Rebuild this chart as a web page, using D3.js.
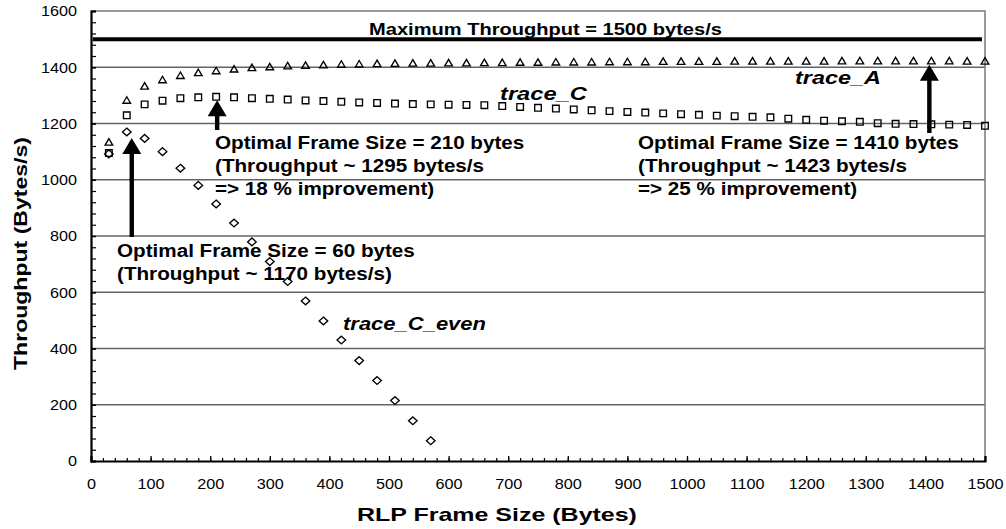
<!DOCTYPE html>
<html>
<head>
<meta charset="utf-8">
<script src="https://cdn.jsdelivr.net/npm/d3@7"></script>
<style>
  body { margin: 0; background: #fff; }
  svg { display: block; }
</style>
</head>
<body>
<svg id="chart" width="1006" height="529"></svg>
<script>
// RLP frame sizes (bytes) at which throughput was measured
const frameSizes = [30, 60, 90, 120, 150, 180, 210, 240, 270, 300, 330, 360, 390, 420, 450, 480, 510, 540, 570, 600,
  630, 660, 690, 720, 750, 780, 810, 840, 870, 900, 930, 960, 990, 1020, 1050, 1080, 1110, 1140, 1170, 1200,
  1230, 1260, 1290, 1320, 1350, 1380, 1410, 1440, 1470, 1500];

// Throughput (bytes/s) for trace_A
const traceA = [1134, 1283, 1333, 1356, 1371, 1381, 1388, 1394, 1399, 1402, 1405, 1407, 1409, 1411, 1412, 1413, 1414, 1415, 1415, 1416,
  1416, 1417, 1417, 1418, 1418, 1419, 1419, 1419, 1420, 1420, 1420, 1421, 1421, 1421, 1421, 1422, 1422, 1422, 1422, 1422,
  1422, 1423, 1423, 1423, 1423, 1423, 1423, 1423, 1422, 1422];

// Throughput (bytes/s) for trace_C
const traceC = [1095, 1229, 1268, 1281, 1290, 1293, 1295, 1293, 1290, 1288, 1285, 1282, 1280, 1277, 1275, 1273, 1271, 1269, 1268, 1267,
  1266, 1265, 1262, 1259, 1256, 1253, 1250, 1247, 1244, 1241, 1239, 1236, 1233, 1231, 1228, 1226, 1224, 1222, 1217, 1213,
  1210, 1208, 1206, 1201, 1199, 1198, 1197, 1196, 1195, 1192];

// trace_C_even only covers the small frame sizes
const evenFrameSizes = [30, 60, 90, 120, 150, 180, 210, 240, 270, 300, 330, 360, 390, 420, 450, 480, 510, 540, 570];
const traceCEven = [1092, 1170, 1147, 1100, 1041, 980, 914, 846, 779, 709, 638, 569, 498, 430, 357, 286, 215, 143, 72];

const xTicks = [0, 100, 200, 300, 400, 500, 600, 700, 800, 900, 1000, 1100, 1200, 1300, 1400, 1500];
const yTicks = [0, 200, 400, 600, 800, 1000, 1200, 1400, 1600];

const maxThroughput = 1500;
const maxLabel = "Maximum Throughput = 1500 bytes/s";

const seriesNames = ["trace_A", "trace_C", "trace_C_even"];

const optimaSizes = [60, 210, 1410];
const optimaValues = [1170, 1295, 1423];
const optimaText = [
  ["Optimal Frame Size = 60 bytes", "(Throughput ~ 1170 bytes/s)"],
  ["Optimal Frame Size = 210 bytes", "(Throughput ~ 1295 bytes/s", "=> 18 % improvement)"],
  ["Optimal Frame Size = 1410 bytes", "(Throughput ~ 1423 bytes/s", "=> 25 % improvement)"]
];

const xTitle = "RLP Frame Size (Bytes)";
const yTitle = "Throughput (Bytes/s)";

// ---------------------------------------------------------------------------
const svg = d3.select("#chart");
const FONT = "'Liberation Sans', Arial, Helvetica, sans-serif";

const x = d3.scaleLinear().domain([0, 1500]).range([91, 985]);
const y = d3.scaleLinear().domain([0, 1600]).range([461, 11]);

// widen glyphs horizontally by factor k (the chart uses a broad face)
function stretch(sel, k) {
  sel.each(function () {
    const w = this.getComputedTextLength();
    d3.select(this).attr("textLength", w * k).attr("lengthAdjust", "spacingAndGlyphs");
  });
}

// horizontal gridlines
svg.append("g")
  .selectAll("line")
  .data(yTicks.filter(d => d > 0 && d < 1600))
  .join("line")
  .attr("x1", x(0)).attr("x2", x(1500))
  .attr("y1", d => y(d)).attr("y2", d => y(d))
  .attr("stroke", "#646464").attr("stroke-width", 1.3);

// top and right frame
svg.append("path")
  .attr("d", `M${x(0)},${y(1600)}H${x(1500)}V${y(0)}`)
  .attr("fill", "none").attr("stroke", "#7a7a7a").attr("stroke-width", 1.5);

// minor ticks
svg.append("g")
  .attr("transform", `translate(0,${y(0)})`)
  .call(d3.axisBottom(x).tickValues(d3.range(0, 1501, 20)).tickSize(-3).tickFormat(""))
  .call(g => g.select(".domain").remove())
  .selectAll("line").attr("stroke", "#000").attr("stroke-width", 1.2);
svg.append("g")
  .attr("transform", `translate(${x(0)},0)`)
  .call(d3.axisLeft(y).tickValues(d3.range(0, 1601, 40)).tickSize(-5).tickFormat(""))
  .call(g => g.select(".domain").remove())
  .selectAll("line").attr("stroke", "#000").attr("stroke-width", 1.2);

// major axes
const xAxis = svg.append("g")
  .attr("transform", `translate(0,${y(0)})`)
  .call(d3.axisBottom(x).tickValues(xTicks).tickSize(-5).tickPadding(17).tickFormat(d3.format("d")));
xAxis.select(".domain").attr("stroke", "#000").attr("stroke-width", 2.2);
xAxis.selectAll("line").attr("stroke", "#000").attr("stroke-width", 1.3);
xAxis.selectAll("text").attr("font-family", FONT).attr("font-size", 15).attr("fill", "#000")
  .call(stretch, 1.08);

const yAxis = svg.append("g")
  .attr("transform", `translate(${x(0)},0)`)
  .call(d3.axisLeft(y).tickValues(yTicks).tickSize(-5).tickPadding(14).tickFormat(d3.format("d")));
yAxis.select(".domain").attr("stroke", "#000").attr("stroke-width", 2.2);
yAxis.selectAll("line").attr("stroke", "#000").attr("stroke-width", 1.3);
yAxis.selectAll("text").attr("font-family", FONT).attr("font-size", 15).attr("fill", "#000")
  .call(stretch, 1.08);

// maximum throughput line
svg.append("line")
  .attr("x1", x(3)).attr("x2", x(1495))
  .attr("y1", y(maxThroughput)).attr("y2", y(maxThroughput))
  .attr("stroke", "#000").attr("stroke-width", 4);

// markers
const triangle = "M0,-3.4L3.8,3.1L-3.8,3.1Z";
const square = "M-3.3,-3.3H3.3V3.3H-3.3Z";
const diamond = "M0,-3.9L4.3,0L0,3.9L-4.3,0Z";

function plotSeries(xs, ys, shape) {
  svg.append("g")
    .selectAll("path")
    .data(xs.map((d, i) => [d, ys[i]]))
    .join("path")
    .attr("d", shape)
    .attr("transform", d => `translate(${x(d[0])},${y(d[1])})`)
    .attr("fill", "none").attr("stroke", "#000").attr("stroke-width", 1.35);
}
plotSeries(frameSizes, traceC, square);
plotSeries(frameSizes, traceA, triangle);
plotSeries(evenFrameSizes, traceCEven, diamond);

// arrows pointing at each optimum
const arrowLayout = [
  { dx: 5, gap: 6, tail: 237 },
  { dx: 1, gap: 3.5, tail: 130 },
  { dx: -2, gap: 4, tail: 133 }
];
optimaSizes.forEach((s, i) => {
  const L = arrowLayout[i];
  const ax = x(s) + L.dx;
  const tip = y(optimaValues[i]) + L.gap;
  const base = tip + 16;
  svg.append("path")
    .attr("d", `M${ax},${tip}L${ax + 9.5},${base}H${ax + 2.2}V${L.tail}H${ax - 2.2}V${base}H${ax - 9.5}Z`)
    .attr("fill", "#000");
});

// annotation text
const boldK = 1.18;
const noteLayout = [
  { left: 117, top: 256.5 },
  { left: 215, top: 148.5 },
  { left: 638, top: 148.5 }
];
optimaText.forEach((lines, i) => {
  svg.append("g")
    .selectAll("text")
    .data(lines)
    .join("text")
    .attr("x", noteLayout[i].left)
    .attr("y", (d, j) => noteLayout[i].top + j * 23)
    .attr("font-family", FONT).attr("font-weight", "bold").attr("font-size", 17.5)
    .attr("fill", "#000")
    .text(d => d)
    .call(stretch, boldK);
});

svg.append("text")
  .attr("x", 545.5).attr("y", 34.7)
  .attr("text-anchor", "middle")
  .attr("font-family", FONT).attr("font-weight", "bold").attr("font-size", 17)
  .text(maxLabel)
  .call(stretch, boldK);

// series labels
const seriesLabelPos = [
  { left: 795, base: 84, width: 86 },
  { left: 500, base: 99.5, width: 87 },
  { left: 343, base: 329.5, width: 143 }
];
seriesNames.forEach((name, i) => {
  svg.append("text")
    .attr("x", seriesLabelPos[i].left).attr("y", seriesLabelPos[i].base)
    .attr("font-family", FONT).attr("font-weight", "bold").attr("font-style", "italic")
    .attr("font-size", 17.5)
    .attr("textLength", seriesLabelPos[i].width).attr("lengthAdjust", "spacingAndGlyphs")
    .text(name);
});

// axis titles
svg.append("text")
  .attr("x", 497).attr("y", 520.5)
  .attr("text-anchor", "middle")
  .attr("font-family", FONT).attr("font-weight", "bold").attr("font-size", 18.5)
  .text(xTitle)
  .call(stretch, 1.35);

svg.append("text")
  .attr("transform", "translate(27,253.5) rotate(-90)")
  .attr("text-anchor", "middle")
  .attr("font-family", FONT).attr("font-weight", "bold").attr("font-size", 18)
  .text(yTitle)
  .call(stretch, 1.28);
</script>
</body>
</html>
